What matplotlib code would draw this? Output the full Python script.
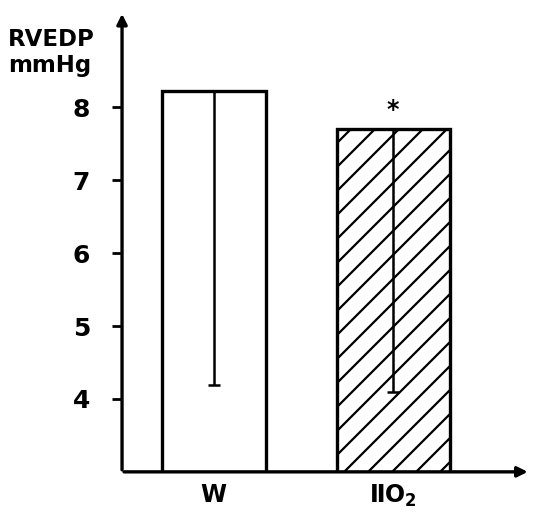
import numpy as np
import matplotlib
matplotlib.use("Agg")
from matplotlib import pyplot as plt

# RVEDP per group, with downward spread
groups = ["W", r"ⅡO$_\mathbf{2}$"]
means = [8.23, 7.70]
lower_err = [4.04, 3.60]
hatches = ["", "/"]
yticks = [4, 5, 6, 7, 8]

# saved at 72 dpi so the hatch spacing comes out wider; sizes scaled to match
DPI = 72
S = 100 / DPI

plt.rcParams['hatch.linewidth'] = 1.6 * S

fig = plt.figure(figsize=(540 / DPI, 514 / DPI), dpi=DPI)
ax = fig.add_axes([0.226, 0.082, 0.755, 0.895])

x = np.array([0.90, 2.66])
widths = [1.02, 1.11]
for xi, m, w, h in zip(x, means, widths, hatches):
    ax.bar(xi, m, width=w, bottom=0, facecolor="white", edgecolor="black",
           linewidth=2.4 * S, hatch=h, zorder=2)
ax.errorbar(x, means, yerr=[lower_err, [0, 0]], fmt="none", ecolor="black",
            elinewidth=1.8 * S, capsize=4 * S, capthick=1.8 * S, zorder=3)

ax.text(x[1], 7.80, "*", ha="center", va="bottom", fontsize=17 * S, fontweight="bold")

ax.set_xlim(0, 4)
ax.set_ylim(3, 9.31)
for s in ax.spines.values():
    s.set_visible(False)

# axes drawn as arrows
arrow = dict(arrowstyle="-|>", lw=2.4 * S, color="black", mutation_scale=15 * S)
ax.annotate("", xy=(0, 1), xytext=(0, 0), xycoords="axes fraction", arrowprops=arrow)
ax.annotate("", xy=(1, 0), xytext=(0, 0), xycoords="axes fraction", arrowprops=arrow)

ax.set_yticks(yticks)
ax.set_yticklabels([str(t) for t in yticks], fontsize=18 * S, fontweight="bold")
ax.tick_params(axis="y", length=7 * S, width=2 * S, pad=16 * S)
ax.set_xticks(x)
ax.set_xticklabels(groups, fontsize=17 * S, fontweight="bold")
ax.tick_params(axis="x", length=0, pad=8 * S)

fig.text(0.015, 0.945, "RVEDP\nmmHg", fontsize=16.5 * S, fontweight="bold",
         ha="left", va="top", linespacing=1.15)

fig.savefig("out.png", dpi=DPI)
